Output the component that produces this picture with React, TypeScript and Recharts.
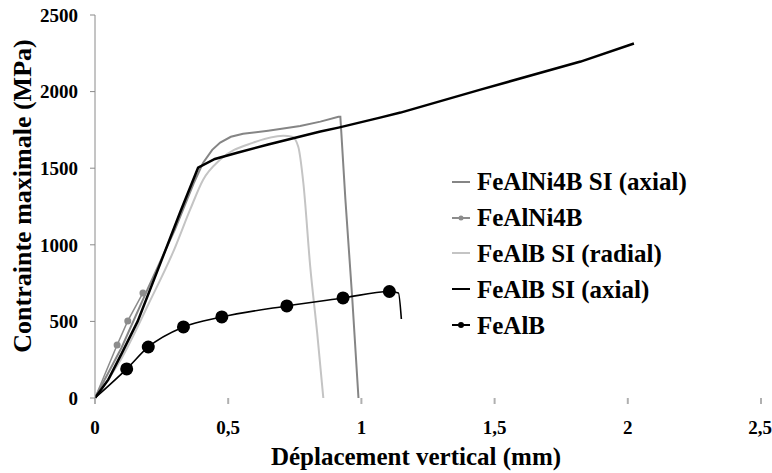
import React from "react";
import { LineChart, Line, XAxis, YAxis, Label } from "recharts";

// FeAlNi4B SI (axial)
const ni4bSiAxialX = [0, 0.1, 0.2, 0.3, 0.37, 0.406, 0.44, 0.47, 0.51, 0.556, 0.65, 0.77, 0.846, 0.914, 0.921, 0.94, 0.966, 0.989];
const ni4bSiAxialY = [0, 330, 720, 1100, 1400, 1536, 1620, 1667, 1705, 1725, 1745, 1775, 1804, 1836, 1836, 1294, 641, 0];

// FeAlNi4B
const ni4bX = [0, 0.083, 0.123, 0.18];
const ni4bY = [0, 346, 503, 686];

// FeAlB SI (radial)
const bSiRadialX = [0, 0.1, 0.2, 0.3, 0.357, 0.406, 0.47, 0.594, 0.707, 0.74, 0.763, 0.782, 0.808, 0.834, 0.857];
const bSiRadialY = [0, 260, 610, 980, 1229, 1425, 1556, 1667, 1712, 1706, 1640, 1405, 856, 425, 0];

// FeAlB SI (axial)
const bSiAxialX = [0, 0.05, 0.1, 0.16, 0.25, 0.32, 0.387, 0.45, 0.534, 0.65, 0.846, 0.914, 1.07, 1.147, 1.447, 1.823, 2.023];
const bSiAxialY = [0, 120, 290, 500, 900, 1214, 1503, 1560, 1601, 1655, 1739, 1765, 1830, 1863, 2013, 2196, 2314];

// FeAlB
const feAlBX = [0, 0.119, 0.2, 0.332, 0.476, 0.72, 0.931, 1.105, 1.139, 1.15];
const feAlBY = [0, 190, 333, 464, 529, 601, 653, 695, 686, 516];
const feAlBMarked = [false, true, true, true, true, true, true, true, false, false];

const xTicks = [0, 0.5, 1, 1.5, 2, 2.5];
const yTicks = [0, 500, 1000, 1500, 2000, 2500];

const toRows = (xs: number[], ys: number[]) => xs.map((x, i) => ({ x, y: ys[i], i }));

const FONT = "'Liberation Serif', 'Times New Roman', serif";

const legendItems = [
  { name: "FeAlNi4B SI (axial)", color: "#858585", dot: 0 },
  { name: "FeAlNi4B", color: "#8c8c8c", dot: 2.5 },
  { name: "FeAlB SI (radial)", color: "#c4c4c4", dot: 0 },
  { name: "FeAlB SI (axial)", color: "#000", dot: 0 },
  { name: "FeAlB", color: "#000", dot: 3 },
];

function LegendBox() {
  return (
    <div
      style={{
        position: "absolute",
        left: 451,
        top: 164,
        fontFamily: FONT,
        fontWeight: "bold",
        fontSize: 25,
        color: "#000",
        lineHeight: 1,
      }}
    >
      {legendItems.map((it) => (
        <div key={it.name} style={{ display: "flex", alignItems: "center", height: 35.8 }}>
          <svg width={20} height={12} style={{ marginRight: 6 }}>
            <line x1={1} y1={6} x2={19} y2={6} stroke={it.color} strokeWidth={2} />
            {it.dot > 0 && <circle cx={10} cy={6} r={it.dot} fill={it.color} />}
          </svg>
          <span style={{ whiteSpace: "nowrap" }}>{it.name}</span>
        </div>
      ))}
    </div>
  );
}

export default function App() {
  return (
    <div style={{ position: "absolute", left: 0, top: 0, width: 772, height: 473, background: "#fff" }}>
      <LineChart width={772} height={473} margin={{ top: 15, right: 11, left: 0, bottom: 0 }}>
        <XAxis
          type="number"
          dataKey="x"
          domain={[0, 2.5]}
          ticks={xTicks}
          allowDataOverflow
          axisLine={false}
          tickLine={{ stroke: "#b0b0b0", strokeWidth: 2 }}
          tickSize={6}
          tickMargin={17}
          height={75}
          tickFormatter={(v: number) => String(v).replace(".", ",")}
          tick={{ fontFamily: FONT, fontWeight: "bold", fontSize: 19, fill: "#000" }}
        >
          <Label
            content={() => (
              <text x={416} y={465} textAnchor="middle" fontFamily={FONT} fontWeight="bold" fontSize={25} fill="#000">
                Déplacement vertical (mm)
              </text>
            )}
          />
        </XAxis>
        <YAxis
          type="number"
          dataKey="y"
          domain={[0, 2500]}
          ticks={yTicks}
          width={95}
          axisLine={{ stroke: "#8a8a8a" }}
          tickLine={{ stroke: "#8a8a8a" }}
          tickSize={5}
          tickMargin={12}
          tick={{ fontFamily: FONT, fontWeight: "bold", fontSize: 19, fill: "#000" }}
        >
          <Label
            content={() => (
              <text
                x={31}
                y={196}
                transform="rotate(-90 31 196)"
                textAnchor="middle"
                fontFamily={FONT}
                fontWeight="bold"
                fontSize={26}
                fill="#000"
              >
                Contrainte maximale (MPa)
              </text>
            )}
          />
        </YAxis>
        <Line
          data={toRows(ni4bSiAxialX, ni4bSiAxialY)}
          dataKey="y"
          name="FeAlNi4B SI (axial)"
          type="linear"
          stroke="#858585"
          strokeWidth={2}
          dot={false}
          isAnimationActive={false}
        />
        <Line
          data={toRows(ni4bX, ni4bY)}
          dataKey="y"
          name="FeAlNi4B"
          type="linear"
          stroke="#8c8c8c"
          strokeWidth={1.5}
          dot={(p: any) =>
            p.index > 0 ? (
              <circle key={p.index} cx={p.cx} cy={p.cy} r={3.5} fill="#8c8c8c" />
            ) : (
              <g key={p.index} />
            )
          }
          isAnimationActive={false}
        />
        <Line
          data={toRows(bSiRadialX, bSiRadialY)}
          dataKey="y"
          name="FeAlB SI (radial)"
          type="monotone"
          stroke="#c4c4c4"
          strokeWidth={2}
          dot={false}
          isAnimationActive={false}
        />
        <Line
          data={toRows(bSiAxialX, bSiAxialY)}
          dataKey="y"
          name="FeAlB SI (axial)"
          type="linear"
          stroke="#000"
          strokeWidth={2.5}
          dot={false}
          isAnimationActive={false}
        />
        <Line
          data={toRows(feAlBX, feAlBY)}
          dataKey="y"
          name="FeAlB"
          type="monotone"
          stroke="#000"
          strokeWidth={1.6}
          dot={(p: any) =>
            feAlBMarked[p.index] ? (
              <circle key={p.index} cx={p.cx} cy={p.cy} r={6.5} fill="#000" />
            ) : (
              <g key={p.index} />
            )
          }
          isAnimationActive={false}
        />
      </LineChart>
      <LegendBox />
    </div>
  );
}
